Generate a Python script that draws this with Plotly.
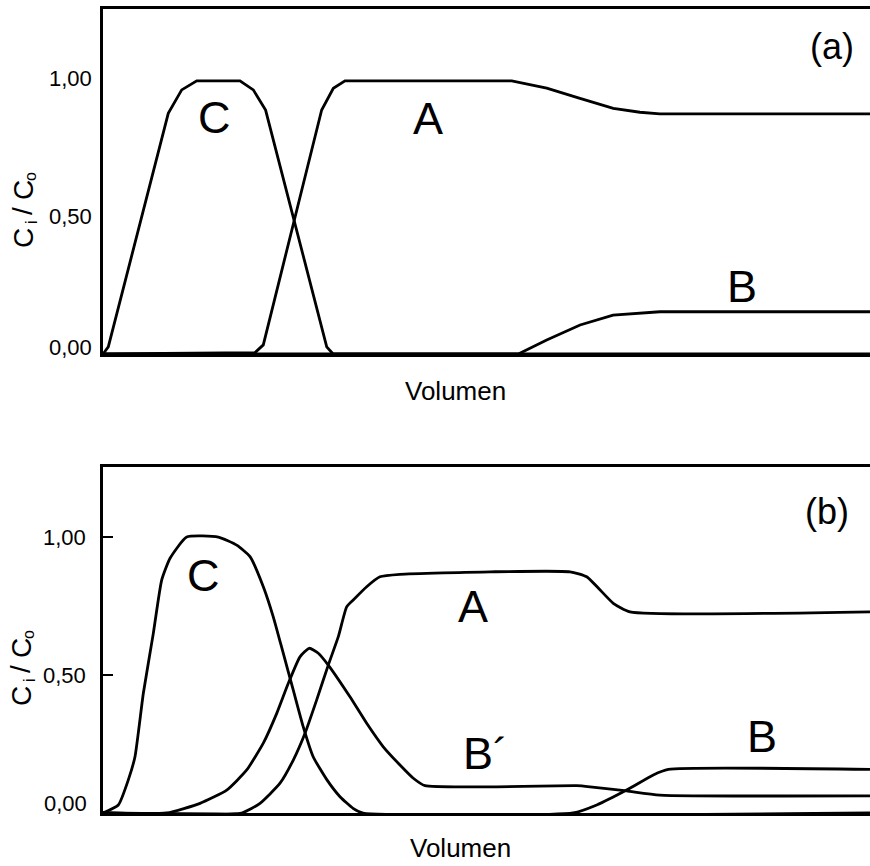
import plotly.graph_objects as go

# ---------------- data ----------------
# Panel (a)
a_C_x = [0, 0.69, 8.51, 10.26, 12.22, 17.86, 19.6, 21.2, 29.17, 30.0, 100]
a_C_y = [0, 0.026, 0.872, 0.957, 0.99, 0.99, 0.957, 0.884, 0.026, 0.0, 0.0]

a_A_x = [0, 19.82, 20.9, 28.51, 30.03, 31.55, 53.29, 57.85, 62.19, 66.53, 70.0, 72.6, 100]
a_A_y = [0, 0.005, 0.033, 0.884, 0.963, 0.99, 0.99, 0.963, 0.926, 0.89, 0.876, 0.87, 0.87]

a_B_x = [0, 54.15, 57.85, 62.2, 66.5, 70.9, 72.6, 100]
a_B_y = [0, 0.0, 0.051, 0.105, 0.141, 0.151, 0.153, 0.153]

# Panel (b)
b_C_x = [0, 2.0, 3.3, 4.17, 5.26, 6.56, 7.65, 8.74, 10.91, 15.04, 17.43, 19.17, 20.9,
         22.2, 23.5, 24.8, 26.1, 27.4, 29.2, 30.9, 32.6, 33.9, 100]
b_C_y = [0, 0.029, 0.12, 0.204, 0.434, 0.651, 0.844, 0.923, 1.0, 1.0, 0.971, 0.929, 0.82,
         0.711, 0.579, 0.446, 0.313, 0.204, 0.12, 0.059, 0.017, 0.0, 0.0]

b_Bp_x = [0, 8.3, 12.65, 16.13, 18.74, 20.9, 22.65, 24.16, 25.68, 26.9, 28.07, 29.37,
          32.2, 34.38, 36.54, 38.72, 40.46, 41.98, 61.76, 63.5, 68.27, 72.6, 100]
b_Bp_y = [0, 0.0, 0.035, 0.083, 0.156, 0.253, 0.361, 0.47, 0.566, 0.597, 0.579, 0.536,
          0.421, 0.325, 0.24, 0.174, 0.126, 0.099, 0.099, 0.095, 0.08, 0.065, 0.062]

b_A_x = [0, 18.08, 20.47, 23.08, 24.81, 26.34, 27.86, 29.37, 30.68, 31.77, 32.63, 34.38,
         36.11, 38.72, 50.46, 60.89, 63.06, 66.53, 68.71, 100]
b_A_y = [0, 0.0, 0.035, 0.108, 0.192, 0.289, 0.41, 0.536, 0.639, 0.747, 0.772, 0.82,
         0.856, 0.865, 0.874, 0.874, 0.856, 0.76, 0.729, 0.729]

b_B_x = [0, 61.3, 64.37, 68.27, 71.75, 73.7, 100]
b_B_y = [0, 0.0, 0.029, 0.083, 0.138, 0.158, 0.158]

tick_vals = [0.5, 1.0]
tick_text = ["0,50", "1,00"]
zero_label = "0,00"

labels_a = [("C", 14.6, 0.857), ("A", 42.4, 0.854), ("B", 83.3, 0.244)]
labels_b = [("C", 13.1, 0.862), ("A", 48.3, 0.747), ("B´", 49.9, 0.216), ("B", 85.9, 0.276)]
panel_tags = [("(a)", 95.0, 1.113), ("(b)", 94.35, 1.092)]
x_title = "Volumen"
# y title pieces: text, font size, dx, dy (pixels from the title centre, screen)
y_title_parts = [("C", 28, 0, 26), ("i", 16, 8, 10), ("/", 28, 0, -1),
                 ("C", 28, 0, -22), ("o", 16, 8, -35)]

FONT = "Arial, Liberation Sans, sans-serif"
W, H = 870, 866
LW = 2.8

fig = go.Figure()

for xs, ys in [(a_C_x, a_C_y), (a_A_x, a_A_y), (a_B_x, a_B_y)]:
    fig.add_trace(go.Scatter(x=xs, y=ys, mode="lines", line=dict(color="black", width=LW),
                             xaxis="x", yaxis="y", showlegend=False, hoverinfo="skip"))
for xs, ys in [(b_C_x, b_C_y), (b_Bp_x, b_Bp_y), (b_A_x, b_A_y), (b_B_x, b_B_y)]:
    fig.add_trace(go.Scatter(x=xs, y=ys, mode="lines",
                             line=dict(color="black", width=LW, shape="spline", smoothing=0.5),
                             xaxis="x2", yaxis="y2", showlegend=False, hoverinfo="skip"))

x0 = 103 / W
top_dom = [(H - 354) / H, (H - 9.3) / H]
bot_dom = [(H - 813) / H, (H - 466.7) / H]

xcommon = dict(range=[0, 100], domain=[x0, 1.0], showline=True, linecolor="black",
               linewidth=2.5, mirror=True, showticklabels=False, ticks="",
               showgrid=False, zeroline=False)
fig.update_layout(
    width=W, height=H,
    margin=dict(l=0, r=0, t=0, b=0),
    paper_bgcolor="white", plot_bgcolor="white",
    font=dict(family=FONT, color="black"),
    xaxis=dict(**xcommon, anchor="y"),
    xaxis2=dict(**xcommon, anchor="y2"),
    yaxis=dict(range=[0, 1.249], domain=top_dom, anchor="x", showline=True, linecolor="black",
               linewidth=2.5, tickvals=tick_vals, ticktext=tick_text, ticks="",
               tickfont=dict(size=22, family=FONT), showgrid=False, zeroline=False,
               ticklabelstandoff=4),
    yaxis2=dict(range=[0, 1.255], domain=bot_dom, anchor="x2", showline=True, linecolor="black",
                linewidth=2.5, tickvals=tick_vals, ticktext=tick_text, ticks="inside",
                ticklen=10, tickwidth=2, tickcolor="black",
                tickfont=dict(size=22, family=FONT), showgrid=False, zeroline=False,
                ticklabelstandoff=10),
)

ann = []
for t, x, y in labels_a:
    ann.append(dict(text=t, x=x, y=y, xref="x", yref="y", showarrow=False,
                    font=dict(size=45, family=FONT)))
for t, x, y in labels_b:
    ann.append(dict(text=t, x=x, y=y, xref="x2", yref="y2", showarrow=False,
                    font=dict(size=45, family=FONT)))
for (t, x, y), (xr, yr) in zip(panel_tags, [("x", "y"), ("x2", "y2")]):
    ann.append(dict(text=t, x=x, y=y, xref=xr, yref=yr, showarrow=False,
                    font=dict(size=36, family=FONT)))
# zero tick labels (sit slightly above the axis in the original)
ann.append(dict(text=zero_label, x=94 / W, y=0.025, xref="paper", yref="y", xanchor="right",
                yanchor="middle", showarrow=False, font=dict(size=22, family=FONT)))
ann.append(dict(text=zero_label, x=89 / W, y=0.036, xref="paper", yref="y2", xanchor="right",
                yanchor="middle", showarrow=False, font=dict(size=22, family=FONT)))
# x titles
for xc, yc in [(455, 391), (460, 848)]:
    ann.append(dict(text=x_title, x=xc / W, y=(H - yc) / H, xref="paper", yref="paper",
                    xanchor="center", yanchor="middle", showarrow=False,
                    font=dict(size=26, family=FONT)))
# y titles built from pieces (rotated)
for cx, cy in [(23, 212), (21, 670)]:
    for t, fs, dx, dy in y_title_parts:
        ann.append(dict(text=t, x=(cx + dx) / W, y=(H - (cy + dy)) / H, xref="paper",
                        yref="paper", xanchor="center", yanchor="middle", textangle=-90,
                        showarrow=False, font=dict(size=fs, family=FONT)))
fig.update_layout(annotations=ann)

fig.write_html("out.html", config={"displayModeBar": False},
               post_script="document.body.style.margin='0';document.body.style.overflow='hidden';")
